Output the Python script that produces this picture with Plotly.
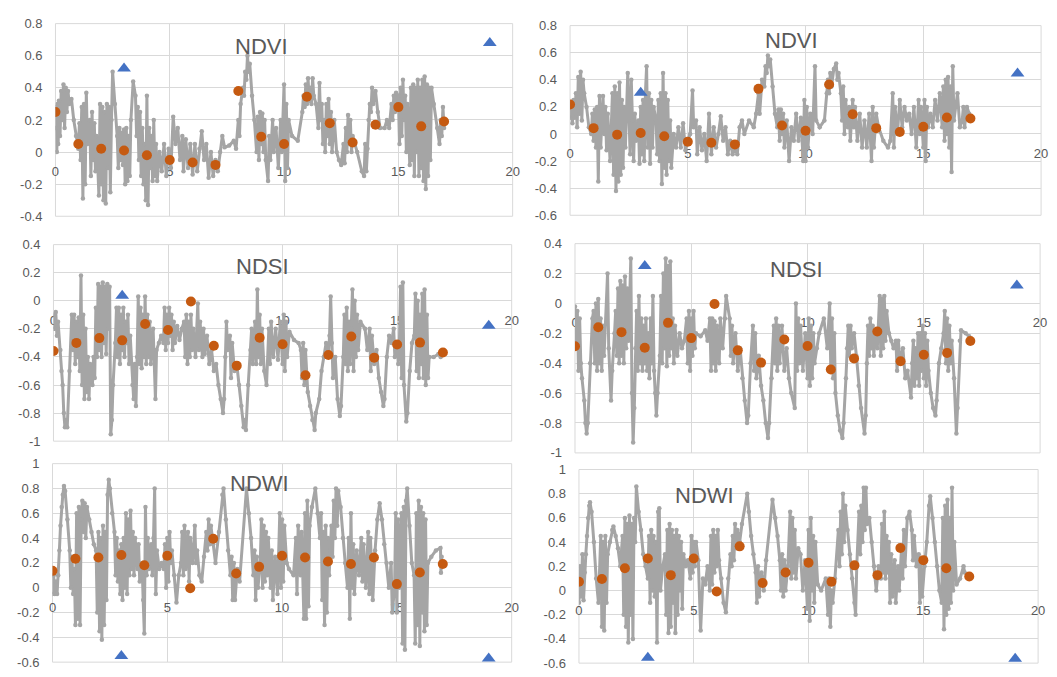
import plotly.graph_objects as go

# ---------------- data ----------------
dot_x = [0, 1, 2, 3, 4, 5, 6, 7, 8, 9, 10, 11, 12, 13, 14, 15, 16, 17]
tri_x = [3, 19]

ndvi_a_dots = [0.25, 0.05, 0.02, 0.01, -0.02, -0.05, -0.065, -0.08, 0.38, 0.095, 0.05, 0.345, 0.18, 0.06, 0.17, 0.28, 0.16, 0.19]
ndvi_b_dots = [0.217, 0.043, -0.005, 0.007, -0.017, -0.058, -0.065, -0.077, 0.333, 0.063, 0.024, 0.365, 0.145, 0.043, 0.014, 0.053, 0.121, 0.114]
ndsi_a_dots = [-0.358, -0.30, -0.266, -0.282, -0.166, -0.208, -0.005, -0.321, -0.462, -0.264, -0.31, -0.53, -0.386, -0.254, -0.405, -0.312, -0.298, -0.368]
ndsi_b_dots = [-0.287, -0.159, -0.192, -0.296, -0.130, -0.232, -0.004, -0.314, -0.396, -0.241, -0.285, -0.442, -0.369, -0.188, -0.387, -0.343, -0.331, -0.252]
ndwi_a_dots = [0.136, 0.233, 0.243, 0.264, 0.181, 0.257, -0.005, 0.395, 0.115, 0.168, 0.257, 0.243, 0.212, 0.191, 0.243, 0.029, 0.123, 0.191]
ndwi_b_dots = [0.073, 0.095, 0.184, 0.265, 0.127, 0.265, -0.008, 0.365, 0.062, 0.149, 0.23, 0.073, 0.208, 0.127, 0.351, 0.251, 0.184, 0.116]

ndvi_a_tri = [0.52, 0.68]
ndvi_b_tri = [0.305, 0.447]
ndsi_a_tri = [0.035, -0.178]
ndsi_b_tri = [0.25, 0.12]
ndwi_a_tri = [-0.55, -0.57]
ndwi_b_tri = [-0.555, -0.563]

ndvi_a_line = [(0.00,0.15),(0.03,0.28),(0.06,0.00),(0.09,0.30),(0.12,0.05),(0.15,0.32),(0.20,0.10),(0.25,0.38),(0.30,0.20),(0.35,0.42),(0.40,0.15),(0.45,0.40),(0.50,0.25),(0.55,0.38),(0.60,0.30),(0.70,0.33),(0.80,0.20),(0.90,0.10),(1.00,0.02),(1.05,0.18),(1.10,-0.05),(1.15,0.28),(1.20,-0.29),(1.25,0.30),(1.30,-0.20),(1.35,0.37),(1.40,0.05),(1.50,0.20),(1.55,-0.15),(1.60,0.25),(1.65,-0.05),(1.70,0.18),(1.75,-0.12),(1.80,0.10),(1.90,-0.27),(1.95,0.30),(2.00,-0.20),(2.05,0.28),(2.10,-0.30),(2.15,0.25),(2.20,-0.32),(2.25,0.30),(2.30,-0.10),(2.35,0.28),(2.40,-0.25),(2.45,0.20),(2.50,0.50),(2.60,0.30),(2.70,0.10),(2.75,-0.10),(2.80,0.15),(2.85,-0.05),(2.90,0.12),(2.95,-0.08),(3.00,0.14),(3.05,-0.20),(3.10,0.15),(3.15,-0.18),(3.20,0.10),(3.25,-0.15),(3.30,0.20),(3.40,0.44),(3.50,0.35),(3.55,0.10),(3.60,0.28),(3.65,-0.05),(3.70,0.25),(3.75,-0.15),(3.80,0.15),(3.85,-0.20),(3.90,0.05),(3.95,-0.30),(4.00,0.35),(4.05,-0.33),(4.10,0.15),(4.15,-0.10),(4.20,0.10),(4.25,-0.18),(4.30,0.20),(4.35,-0.15),(4.40,0.05),(4.45,-0.18),(4.55,0.00),(4.65,-0.12),(4.75,0.05),(4.85,-0.15),(4.95,0.02),(5.05,-0.10),(5.15,0.22),(5.25,0.05),(5.35,0.15),(5.45,-0.05),(5.55,0.10),(5.60,-0.12),(5.70,0.08),(5.80,-0.10),(5.90,0.05),(6.00,-0.14),(6.10,0.05),(6.20,-0.12),(6.30,0.02),(6.40,0.13),(6.50,-0.05),(6.60,0.05),(6.70,-0.16),(6.80,0.00),(6.90,-0.15),(7.00,-0.05),(7.10,-0.12),(7.20,0.00),(7.30,0.10),(7.40,0.03),(7.60,0.04),(7.80,0.07),(7.90,0.02),(8.00,0.20),(8.05,0.10),(8.10,0.30),(8.20,0.40),(8.25,0.35),(8.30,0.50),(8.35,0.45),(8.40,0.60),(8.45,0.50),(8.50,0.55),(8.60,0.35),(8.70,0.20),(8.80,0.00),(8.85,0.22),(8.90,-0.05),(8.95,0.25),(9.00,0.05),(9.05,0.24),(9.10,0.00),(9.15,0.20),(9.20,-0.05),(9.30,-0.18),(9.35,0.10),(9.40,-0.05),(9.50,0.20),(9.55,0.00),(9.65,0.15),(9.75,-0.10),(9.85,0.20),(9.90,0.00),(10.00,0.42),(10.05,-0.18),(10.10,0.30),(10.15,-0.10),(10.20,0.20),(10.35,0.10),(10.60,0.07),(10.80,0.25),(10.85,0.35),(10.90,0.28),(10.95,0.42),(11.00,0.30),(11.05,0.46),(11.10,0.32),(11.15,0.40),(11.20,0.30),(11.25,0.46),(11.30,0.35),(11.40,0.30),(11.50,0.15),(11.55,0.43),(11.60,0.20),(11.65,0.30),(11.70,0.05),(11.75,0.20),(11.80,0.00),(11.85,0.30),(11.90,0.10),(11.95,0.33),(12.00,0.05),(12.05,0.25),(12.10,0.00),(12.20,0.20),(12.30,0.00),(12.40,-0.05),(12.50,-0.08),(12.60,0.05),(12.65,-0.07),(12.70,0.15),(12.75,0.00),(12.80,0.23),(12.85,0.05),(12.90,0.20),(12.95,0.00),(13.00,0.10),(13.20,0.00),(13.40,-0.12),(13.50,-0.15),(13.55,0.05),(13.60,-0.12),(13.65,0.02),(13.70,0.20),(13.75,0.30),(13.80,0.25),(13.85,0.40),(13.90,0.30),(14.00,0.38),(14.10,0.25),(14.20,0.15),(14.40,0.15),(14.50,0.20),(14.60,0.15),(14.70,0.30),(14.75,0.20),(14.80,0.35),(14.85,0.25),(14.90,0.37),(15.00,0.35),(15.05,0.05),(15.10,0.40),(15.15,0.10),(15.20,0.45),(15.25,0.20),(15.30,0.35),(15.35,0.00),(15.40,0.30),(15.50,-0.08),(15.55,0.40),(15.60,-0.05),(15.65,0.42),(15.70,-0.15),(15.75,0.40),(15.80,0.00),(15.85,0.45),(15.90,-0.15),(15.95,0.40),(16.00,-0.10),(16.05,0.45),(16.10,-0.18),(16.15,0.47),(16.20,-0.23),(16.25,0.42),(16.30,-0.15),(16.35,0.40),(16.40,-0.05),(16.45,0.40),(16.55,0.30),(16.70,0.15),(16.80,0.05),(16.85,0.20),(16.90,0.10),(16.95,0.28),(17.00,0.15)]

ndvi_b_line = [(0.00,0.12),(0.05,0.22),(0.10,0.08),(0.15,0.25),(0.20,0.12),(0.25,0.30),(0.30,0.05),(0.35,0.42),(0.40,0.15),(0.45,0.46),(0.50,0.10),(0.55,0.40),(0.60,0.30),(0.70,0.20),(0.80,0.05),(0.90,0.00),(0.95,0.15),(1.00,-0.05),(1.05,0.18),(1.10,-0.10),(1.15,0.20),(1.20,-0.35),(1.25,0.28),(1.30,-0.10),(1.40,0.28),(1.45,0.00),(1.50,0.20),(1.55,-0.12),(1.60,0.15),(1.70,-0.20),(1.80,0.30),(1.85,-0.30),(1.90,0.35),(1.95,-0.42),(2.00,0.30),(2.05,-0.35),(2.10,0.38),(2.15,-0.30),(2.20,0.25),(2.25,-0.25),(2.30,0.20),(2.35,-0.10),(2.45,0.45),(2.50,0.20),(2.55,-0.15),(2.60,0.40),(2.65,0.10),(2.70,-0.20),(2.75,0.15),(2.80,-0.05),(2.90,0.10),(2.95,-0.22),(3.00,0.20),(3.05,-0.15),(3.10,0.25),(3.15,-0.20),(3.20,0.30),(3.25,0.50),(3.30,-0.10),(3.35,0.30),(3.40,-0.22),(3.45,0.25),(3.50,-0.10),(3.55,0.20),(3.65,0.10),(3.70,-0.15),(3.75,0.25),(3.80,-0.20),(3.85,0.30),(3.90,-0.37),(3.95,0.45),(4.00,-0.25),(4.05,0.30),(4.10,-0.30),(4.15,0.25),(4.20,-0.20),(4.25,0.10),(4.30,-0.25),(4.40,0.00),(4.50,-0.10),(4.60,0.05),(4.70,-0.10),(4.80,0.08),(4.90,-0.12),(5.00,-0.05),(5.10,0.00),(5.20,0.32),(5.25,0.05),(5.35,0.10),(5.40,-0.15),(5.50,0.05),(5.60,-0.12),(5.70,0.00),(5.80,-0.20),(5.90,0.15),(6.00,-0.15),(6.10,0.05),(6.20,-0.10),(6.30,0.00),(6.40,0.13),(6.50,-0.05),(6.60,0.05),(6.70,-0.15),(6.80,-0.05),(6.90,-0.15),(7.00,-0.10),(7.10,-0.15),(7.20,0.05),(7.30,0.10),(7.40,0.00),(7.60,0.10),(7.80,0.05),(7.90,0.15),(8.00,0.30),(8.05,0.15),(8.15,0.40),(8.25,0.35),(8.30,0.50),(8.35,0.45),(8.40,0.58),(8.45,0.50),(8.50,0.55),(8.60,0.35),(8.70,0.15),(8.80,0.05),(8.85,0.18),(8.90,-0.05),(8.95,0.18),(9.00,0.00),(9.05,0.15),(9.10,-0.10),(9.20,0.10),(9.30,-0.20),(9.40,0.05),(9.50,-0.05),(9.60,0.15),(9.70,-0.05),(9.80,0.12),(9.90,-0.20),(9.95,0.25),(10.00,-0.20),(10.05,0.20),(10.10,-0.10),(10.20,0.15),(10.30,0.00),(10.40,0.50),(10.45,0.10),(10.60,0.05),(10.80,0.10),(10.90,0.30),(10.95,0.40),(11.00,0.30),(11.05,0.45),(11.10,0.35),(11.20,0.48),(11.30,0.52),(11.35,0.40),(11.40,0.45),(11.50,0.30),(11.55,0.10),(11.60,0.35),(11.65,0.00),(11.70,0.25),(11.80,0.05),(11.85,0.20),(11.90,-0.05),(12.00,0.25),(12.05,0.05),(12.10,0.20),(12.20,-0.05),(12.30,0.15),(12.40,-0.10),(12.50,0.10),(12.60,-0.10),(12.70,0.15),(12.80,-0.20),(12.85,0.20),(12.90,-0.10),(13.00,0.15),(13.10,0.05),(13.30,-0.05),(13.50,-0.10),(13.60,-0.05),(13.70,0.30),(13.75,-0.10),(13.80,0.20),(13.90,0.00),(14.00,0.25),(14.10,0.05),(14.20,0.20),(14.30,0.10),(14.40,0.15),(14.50,0.00),(14.60,0.20),(14.70,-0.10),(14.80,0.25),(14.85,0.00),(14.90,0.20),(15.00,-0.10),(15.05,0.25),(15.10,-0.20),(15.15,0.20),(15.20,0.05),(15.30,0.15),(15.40,0.05),(15.50,0.25),(15.60,0.10),(15.70,0.30),(15.80,0.05),(15.85,0.35),(15.90,-0.05),(15.95,0.40),(16.00,0.00),(16.05,0.42),(16.10,-0.10),(16.15,0.35),(16.20,-0.28),(16.25,0.50),(16.30,0.10),(16.45,0.30),(16.55,0.05),(16.65,0.10),(16.70,0.20),(16.75,0.05),(16.85,0.20),(16.95,0.15)]

ndsi_a_line = [(0.00,-0.10),(0.05,-0.20),(0.10,-0.08),(0.15,-0.25),(0.20,-0.15),(0.30,-0.35),(0.35,-0.50),(0.40,-0.60),(0.45,-0.80),(0.50,-0.90),(0.55,-0.85),(0.60,-0.90),(0.70,-0.50),(0.80,-0.10),(0.85,-0.35),(0.90,-0.10),(0.95,-0.45),(1.00,-0.15),(1.05,-0.40),(1.10,-0.12),(1.15,-0.50),(1.20,0.18),(1.25,-0.60),(1.30,-0.10),(1.35,-0.70),(1.40,-0.20),(1.45,-0.65),(1.50,-0.40),(1.55,-0.70),(1.60,-0.45),(1.70,-0.60),(1.75,-0.40),(1.80,-0.55),(1.85,-0.05),(1.90,-0.40),(1.95,0.12),(2.00,-0.35),(2.05,0.10),(2.10,-0.40),(2.15,0.13),(2.20,-0.30),(2.25,0.10),(2.30,-0.38),(2.35,0.12),(2.40,-0.20),(2.45,0.10),(2.50,-0.95),(2.55,-0.85),(2.60,-0.60),(2.70,-0.30),(2.75,-0.05),(2.80,-0.40),(2.85,-0.05),(2.90,-0.45),(2.95,-0.10),(3.00,-0.35),(3.05,-0.05),(3.10,-0.40),(3.15,-0.15),(3.20,-0.30),(3.25,-0.10),(3.30,-0.45),(3.35,-0.25),(3.45,-0.60),(3.50,-0.70),(3.55,-0.45),(3.60,-0.75),(3.65,-0.40),(3.70,0.03),(3.75,-0.45),(3.80,-0.05),(3.85,-0.48),(3.90,-0.10),(3.95,-0.40),(4.00,0.03),(4.05,-0.45),(4.10,-0.10),(4.15,-0.40),(4.20,-0.15),(4.25,-0.45),(4.35,-0.20),(4.45,-0.70),(4.50,-0.35),(4.60,-0.30),(4.70,-0.25),(4.80,-0.30),(4.85,-0.05),(4.90,-0.35),(4.95,-0.10),(5.00,-0.30),(5.05,-0.05),(5.10,-0.25),(5.15,-0.10),(5.20,-0.35),(5.25,-0.15),(5.30,-0.30),(5.40,-0.18),(5.50,-0.28),(5.60,-0.20),(5.70,-0.15),(5.75,-0.40),(5.80,-0.10),(5.85,-0.45),(5.90,-0.15),(5.95,-0.40),(6.00,-0.10),(6.05,-0.35),(6.10,-0.20),(6.20,-0.40),(6.30,-0.02),(6.35,-0.35),(6.40,-0.15),(6.50,-0.40),(6.55,-0.20),(6.60,-0.38),(6.70,-0.25),(6.80,-0.45),(6.90,-0.35),(7.00,-0.50),(7.10,-0.45),(7.20,-0.60),(7.30,-0.70),(7.40,-0.80),(7.45,-0.70),(7.50,-0.40),(7.55,-0.15),(7.60,-0.35),(7.70,-0.25),(7.75,-0.55),(7.80,-0.30),(7.90,-0.50),(8.00,-0.45),(8.10,-0.60),(8.20,-0.75),(8.30,-0.90),(8.35,-0.85),(8.40,-0.92),(8.50,-0.60),(8.60,-0.35),(8.65,-0.20),(8.70,-0.45),(8.80,-0.15),(8.85,-0.45),(8.90,0.08),(8.95,-0.40),(9.00,-0.10),(9.05,-0.45),(9.10,-0.20),(9.20,-0.50),(9.30,-0.60),(9.40,-0.20),(9.45,-0.45),(9.50,-0.15),(9.60,-0.40),(9.70,-0.20),(9.80,-0.42),(9.90,-0.15),(10.00,-0.45),(10.05,-0.10),(10.10,-0.50),(10.15,-0.15),(10.20,-0.40),(10.30,-0.22),(10.50,-0.28),(10.70,-0.30),(10.80,-0.35),(10.85,-0.55),(10.90,-0.30),(10.95,-0.60),(11.00,-0.35),(11.10,-0.65),(11.20,-0.75),(11.30,-0.85),(11.40,-0.92),(11.45,-0.80),(11.60,-0.70),(11.70,-0.50),(11.80,-0.40),(11.90,-0.30),(12.00,-0.40),(12.05,-0.25),(12.10,0.03),(12.15,-0.30),(12.20,-0.55),(12.30,-0.40),(12.40,-0.70),(12.50,-0.82),(12.55,-0.75),(12.65,-0.40),(12.70,-0.10),(12.75,-0.45),(12.80,-0.05),(12.85,-0.50),(12.90,-0.15),(12.95,-0.45),(13.00,-0.20),(13.05,0.08),(13.10,-0.50),(13.15,0.00),(13.20,-0.40),(13.25,-0.10),(13.30,-0.35),(13.40,-0.15),(13.60,-0.20),(13.70,-0.35),(13.80,-0.20),(13.85,-0.50),(13.90,-0.25),(14.00,-0.45),(14.10,-0.35),(14.20,-0.55),(14.30,-0.65),(14.40,-0.75),(14.45,-0.70),(14.55,-0.40),(14.65,-0.25),(14.75,-0.30),(14.85,-0.20),(14.90,-0.40),(15.00,-0.30),(15.05,-0.45),(15.10,-0.30),(15.15,0.10),(15.20,-0.55),(15.25,0.13),(15.30,-0.60),(15.40,-0.86),(15.45,-0.80),(15.55,-0.50),(15.65,-0.30),(15.75,-0.25),(15.80,0.05),(15.85,-0.50),(15.90,0.00),(15.95,-0.55),(16.00,-0.10),(16.05,-0.45),(16.10,0.05),(16.15,-0.55),(16.20,0.08),(16.25,-0.60),(16.30,-0.10),(16.35,-0.55),(16.40,-0.40),(16.60,-0.40),(16.80,-0.38),(16.90,-0.40)]

ndsi_b_line = [(0.00,-0.02),(0.05,-0.30),(0.10,-0.05),(0.15,-0.45),(0.20,-0.10),(0.25,-0.40),(0.30,-0.50),(0.40,-0.65),(0.45,-0.80),(0.50,-0.87),(0.55,-0.80),(0.65,-0.40),(0.75,-0.10),(0.80,-0.05),(0.85,-0.40),(0.90,0.00),(0.95,-0.45),(1.00,0.03),(1.05,-0.40),(1.10,-0.10),(1.15,-0.45),(1.20,-0.15),(1.25,-0.35),(1.40,0.20),(1.45,-0.30),(1.55,-0.65),(1.60,-0.45),(1.70,-0.20),(1.75,-0.05),(1.80,-0.35),(1.85,0.10),(1.90,-0.40),(1.95,0.15),(2.00,-0.35),(2.05,0.12),(2.10,-0.40),(2.15,0.18),(2.20,-0.30),(2.25,0.10),(2.30,-0.25),(2.40,0.30),(2.45,-0.60),(2.50,-0.93),(2.55,-0.70),(2.60,-0.30),(2.65,-0.05),(2.70,-0.45),(2.75,0.05),(2.80,-0.40),(2.85,-0.10),(2.90,-0.45),(2.95,-0.15),(3.00,-0.40),(3.05,-0.10),(3.10,-0.45),(3.15,-0.20),(3.20,-0.50),(3.25,-0.10),(3.30,-0.40),(3.35,0.05),(3.40,-0.45),(3.45,-0.60),(3.50,-0.75),(3.55,-0.60),(3.65,-0.35),(3.70,0.05),(3.75,-0.40),(3.80,0.20),(3.85,-0.30),(3.90,0.30),(3.95,-0.42),(4.00,0.25),(4.05,-0.35),(4.10,0.28),(4.15,-0.30),(4.20,-0.10),(4.25,-0.40),(4.30,-0.15),(4.40,-0.35),(4.50,-0.20),(4.60,-0.30),(4.70,-0.25),(4.80,-0.10),(4.85,-0.40),(4.90,-0.05),(4.95,-0.45),(5.00,-0.10),(5.05,-0.35),(5.10,-0.05),(5.15,-0.30),(5.20,-0.20),(5.40,-0.22),(5.60,-0.18),(5.70,-0.25),(5.80,-0.10),(5.85,-0.45),(5.90,-0.10),(5.95,-0.40),(6.00,-0.12),(6.05,-0.45),(6.10,-0.15),(6.20,-0.40),(6.25,-0.10),(6.35,-0.30),(6.45,-0.10),(6.50,0.05),(6.65,-0.10),(6.70,-0.35),(6.75,-0.15),(6.80,-0.40),(6.90,-0.20),(7.00,-0.45),(7.10,-0.30),(7.20,-0.50),(7.30,-0.65),(7.40,-0.80),(7.45,-0.75),(7.55,-0.40),(7.65,-0.15),(7.70,-0.45),(7.75,-0.20),(7.80,-0.50),(7.90,-0.35),(8.00,-0.55),(8.10,-0.65),(8.20,-0.80),(8.30,-0.90),(8.35,-0.80),(8.45,-0.50),(8.55,-0.15),(8.60,-0.40),(8.65,-0.10),(8.70,-0.45),(8.75,-0.15),(8.80,-0.40),(8.90,-0.15),(9.00,-0.45),(9.10,-0.30),(9.20,-0.50),(9.30,-0.60),(9.45,-0.70),(9.50,0.00),(9.55,-0.45),(9.60,-0.10),(9.65,-0.40),(9.70,-0.15),(9.80,-0.45),(9.90,-0.20),(10.00,-0.50),(10.05,-0.10),(10.10,-0.55),(10.15,-0.15),(10.20,-0.50),(10.25,-0.20),(10.30,-0.40),(10.40,-0.30),(10.50,-0.20),(10.70,-0.10),(10.85,-0.30),(10.95,0.00),(11.00,-0.45),(11.05,-0.10),(11.10,-0.50),(11.15,-0.20),(11.20,-0.60),(11.30,-0.75),(11.40,-0.85),(11.50,-0.90),(11.55,-0.80),(11.65,-0.50),(11.70,-0.30),(11.75,-0.15),(11.80,-0.35),(11.85,-0.15),(11.90,-0.30),(12.00,-0.20),(12.10,-0.35),(12.20,-0.55),(12.30,-0.70),(12.45,-0.87),(12.50,-0.75),(12.55,-0.40),(12.60,-0.15),(12.65,-0.35),(12.70,-0.10),(12.75,-0.30),(12.80,-0.15),(12.85,-0.35),(12.90,-0.20),(13.00,-0.30),(13.10,0.05),(13.15,-0.35),(13.20,0.03),(13.25,-0.30),(13.30,0.05),(13.35,-0.25),(13.40,-0.05),(13.50,-0.20),(13.60,-0.25),(13.70,-0.30),(13.80,-0.25),(13.85,-0.45),(13.90,-0.25),(14.00,-0.40),(14.10,-0.30),(14.20,-0.50),(14.30,-0.45),(14.45,-0.63),(14.50,-0.40),(14.55,-0.25),(14.60,-0.55),(14.65,-0.30),(14.70,-0.50),(14.75,-0.20),(14.80,-0.55),(14.85,-0.20),(14.90,-0.45),(14.95,-0.15),(15.00,-0.50),(15.05,-0.20),(15.10,-0.55),(15.15,-0.25),(15.20,-0.45),(15.30,-0.60),(15.40,-0.70),(15.50,-0.75),(15.55,-0.65),(15.65,-0.40),(15.75,-0.30),(15.85,-0.20),(15.90,-0.05),(15.95,-0.40),(16.00,-0.10),(16.05,-0.45),(16.10,-0.15),(16.15,-0.40),(16.20,-0.25),(16.30,-0.50),(16.40,-0.87),(16.45,-0.70),(16.55,-0.25),(16.60,-0.18),(16.80,-0.20),(16.95,-0.22)]

ndwi_a_line = [(0.00,-0.05),(0.05,0.10),(0.10,-0.05),(0.15,0.05),(0.20,-0.05),(0.25,0.10),(0.30,0.30),(0.35,0.50),(0.40,0.65),(0.45,0.75),(0.50,0.82),(0.55,0.78),(0.65,0.55),(0.75,0.30),(0.80,0.00),(0.85,0.25),(0.90,-0.05),(0.95,0.15),(1.00,-0.30),(1.05,0.60),(1.10,-0.25),(1.15,0.65),(1.20,-0.30),(1.25,0.55),(1.30,0.70),(1.35,0.45),(1.40,0.68),(1.45,0.40),(1.50,0.65),(1.60,0.55),(1.70,0.45),(1.80,0.35),(1.90,0.30),(1.95,-0.20),(2.00,0.45),(2.05,-0.35),(2.10,0.40),(2.15,-0.42),(2.20,0.50),(2.25,-0.30),(2.30,0.45),(2.35,-0.10),(2.40,0.75),(2.45,0.87),(2.50,0.80),(2.60,0.60),(2.70,0.45),(2.75,0.10),(2.80,0.40),(2.85,0.05),(2.90,0.30),(2.95,-0.05),(3.00,0.35),(3.05,-0.10),(3.10,0.40),(3.15,0.00),(3.20,0.60),(3.25,-0.05),(3.30,0.55),(3.35,0.10),(3.40,0.62),(3.45,0.15),(3.50,0.45),(3.55,0.10),(3.60,0.40),(3.70,0.15),(3.75,0.35),(3.80,0.05),(3.90,0.20),(3.95,-0.10),(4.00,-0.37),(4.05,0.65),(4.10,0.10),(4.15,0.40),(4.20,0.15),(4.30,0.35),(4.35,0.10),(4.40,0.40),(4.45,0.80),(4.50,-0.05),(4.55,0.30),(4.65,0.15),(4.75,0.20),(4.85,0.15),(4.90,0.35),(4.95,0.00),(5.00,0.40),(5.05,0.05),(5.10,0.45),(5.15,0.20),(5.20,0.30),(5.30,0.10),(5.40,-0.12),(5.50,0.10),(5.60,0.20),(5.65,0.45),(5.70,0.10),(5.75,0.50),(5.80,0.15),(5.90,0.45),(5.95,0.05),(6.00,0.40),(6.10,0.20),(6.20,0.50),(6.25,0.20),(6.30,0.30),(6.40,0.10),(6.50,0.05),(6.60,0.25),(6.70,0.45),(6.75,0.30),(6.80,0.55),(6.85,0.35),(6.90,0.50),(7.00,0.35),(7.10,0.20),(7.25,0.45),(7.40,0.75),(7.45,0.80),(7.55,0.55),(7.65,0.30),(7.75,0.10),(7.80,0.25),(7.85,-0.10),(7.90,0.20),(7.95,-0.10),(8.05,0.15),(8.15,0.05),(8.45,0.80),(8.55,0.60),(8.65,0.40),(8.75,0.10),(8.80,0.30),(8.85,-0.10),(8.90,0.25),(8.95,0.00),(9.05,0.20),(9.10,0.55),(9.15,0.00),(9.20,0.50),(9.25,0.05),(9.30,0.45),(9.35,0.10),(9.40,0.40),(9.50,0.00),(9.55,0.30),(9.60,-0.10),(9.70,0.25),(9.80,-0.05),(9.90,0.60),(9.95,0.00),(10.00,0.55),(10.05,0.05),(10.10,0.50),(10.20,0.20),(10.30,0.15),(10.50,0.10),(10.60,0.40),(10.65,-0.05),(10.70,0.50),(10.80,0.10),(10.85,0.45),(10.95,-0.25),(11.00,0.60),(11.05,-0.25),(11.10,0.70),(11.15,-0.15),(11.20,0.50),(11.30,0.65),(11.45,0.80),(11.55,0.60),(11.65,0.40),(11.70,0.60),(11.75,-0.10),(11.80,0.45),(11.85,-0.30),(11.90,0.50),(11.95,-0.20),(12.00,0.40),(12.05,0.10),(12.10,0.30),(12.15,0.50),(12.20,0.25),(12.25,0.70),(12.30,0.40),(12.35,0.80),(12.40,0.50),(12.45,0.78),(12.55,0.65),(12.65,0.40),(12.75,0.20),(12.85,0.00),(12.90,0.40),(12.95,-0.25),(13.00,0.60),(13.05,0.00),(13.10,0.35),(13.15,-0.05),(13.25,0.30),(13.35,0.10),(13.45,0.40),(13.50,0.05),(13.55,0.35),(13.65,0.00),(13.75,0.45),(13.80,-0.05),(13.85,0.40),(13.95,-0.10),(14.05,0.30),(14.15,0.55),(14.25,0.68),(14.35,0.55),(14.45,0.35),(14.55,0.20),(14.65,0.00),(14.75,0.20),(14.80,-0.20),(14.90,0.00),(14.95,0.60),(15.00,-0.20),(15.05,0.55),(15.10,0.00),(15.20,0.60),(15.25,-0.45),(15.30,0.65),(15.35,-0.50),(15.40,0.70),(15.45,0.80),(15.55,0.50),(15.65,0.20),(15.75,0.10),(15.80,-0.45),(15.85,0.60),(15.90,-0.30),(15.95,0.70),(16.00,-0.47),(16.05,0.65),(16.10,-0.20),(16.15,0.60),(16.20,-0.35),(16.25,0.55),(16.30,-0.30),(16.35,0.20),(16.50,0.25),(16.70,0.30),(16.90,0.32),(16.92,0.12),(16.95,0.25)]

ndwi_b_line = [(0.00,-0.10),(0.05,0.20),(0.10,-0.05),(0.15,0.30),(0.20,-0.08),(0.25,0.15),(0.30,0.30),(0.35,0.45),(0.40,0.60),(0.45,0.70),(0.48,0.73),(0.55,0.65),(0.65,0.40),(0.75,0.10),(0.85,-0.10),(0.95,0.45),(1.00,-0.30),(1.05,0.40),(1.10,-0.33),(1.15,0.45),(1.20,-0.10),(1.25,0.30),(1.35,0.40),(1.45,0.50),(1.50,0.53),(1.60,0.45),(1.70,0.35),(1.80,0.20),(1.90,0.45),(1.95,-0.20),(2.00,0.60),(2.05,-0.30),(2.10,0.55),(2.15,-0.43),(2.20,0.62),(2.25,-0.20),(2.30,0.55),(2.35,-0.40),(2.40,0.60),(2.45,0.40),(2.50,0.86),(2.60,0.65),(2.70,0.50),(2.80,0.30),(2.90,0.20),(3.00,0.10),(3.05,0.45),(3.10,-0.10),(3.15,0.50),(3.20,0.00),(3.25,0.45),(3.30,-0.05),(3.35,0.40),(3.40,-0.43),(3.45,0.65),(3.50,0.68),(3.55,0.00),(3.65,0.20),(3.75,0.30),(3.80,-0.20),(3.85,0.50),(3.90,-0.35),(3.95,0.55),(4.00,-0.30),(4.05,0.50),(4.10,-0.10),(4.15,0.45),(4.20,-0.35),(4.25,0.50),(4.30,-0.20),(4.35,0.45),(4.40,0.00),(4.45,0.40),(4.50,-0.15),(4.55,0.30),(4.65,0.20),(4.75,0.25),(4.85,0.10),(4.90,0.45),(4.95,0.15),(5.00,0.40),(5.05,0.20),(5.10,0.40),(5.20,0.25),(5.30,-0.33),(5.40,0.10),(5.50,0.05),(5.60,0.20),(5.70,0.00),(5.75,0.45),(5.80,0.05),(5.85,0.50),(5.90,0.15),(5.95,0.45),(6.00,0.20),(6.05,0.50),(6.10,0.25),(6.20,0.10),(6.30,-0.10),(6.40,-0.18),(6.50,0.10),(6.60,0.30),(6.65,0.20),(6.70,0.45),(6.75,0.25),(6.80,0.55),(6.85,0.35),(6.90,0.50),(7.00,0.40),(7.10,0.55),(7.33,0.80),(7.40,0.65),(7.50,0.45),(7.60,0.30),(7.70,0.15),(7.75,-0.10),(7.80,0.20),(7.85,-0.05),(7.95,0.15),(8.05,0.00),(8.15,0.25),(8.43,0.75),(8.55,0.60),(8.65,0.45),(8.75,0.25),(8.80,0.00),(8.85,0.30),(8.90,-0.05),(8.95,0.25),(9.00,0.00),(9.10,0.20),(9.20,0.65),(9.25,0.10),(9.30,0.60),(9.35,0.15),(9.40,0.50),(9.45,0.10),(9.55,0.35),(9.65,0.30),(9.75,0.00),(9.85,0.25),(9.95,-0.15),(10.00,0.50),(10.05,-0.25),(10.10,0.60),(10.15,0.00),(10.20,0.45),(10.25,-0.10),(10.30,0.40),(10.40,0.05),(10.55,0.00),(10.75,0.10),(10.85,-0.20),(10.90,0.10),(10.95,-0.30),(11.00,0.00),(11.05,-0.10),(11.15,0.10),(11.30,0.50),(11.35,0.20),(11.40,0.65),(11.45,0.30),(11.50,0.80),(11.55,0.40),(11.60,0.70),(11.70,0.50),(11.80,0.30),(11.90,0.10),(12.00,-0.10),(12.05,-0.20),(12.10,0.20),(12.20,0.65),(12.25,0.30),(12.30,0.70),(12.35,0.40),(12.40,0.85),(12.45,0.50),(12.50,0.85),(12.55,0.55),(12.65,0.60),(12.75,0.40),(12.85,0.20),(12.95,0.00),(13.05,0.20),(13.15,0.10),(13.20,0.55),(13.25,0.15),(13.30,0.65),(13.35,0.10),(13.40,0.45),(13.45,0.15),(13.50,0.40),(13.55,-0.10),(13.60,0.30),(13.65,-0.05),(13.75,0.25),(13.80,-0.10),(13.90,0.20),(13.95,0.00),(14.05,0.35),(14.10,0.10),(14.15,0.50),(14.20,0.20),(14.30,0.60),(14.40,0.65),(14.50,0.50),(14.55,0.25),(14.60,0.45),(14.70,0.20),(14.80,0.30),(14.85,-0.10),(14.90,0.25),(14.95,-0.05),(15.05,0.20),(15.15,0.40),(15.25,0.70),(15.30,0.78),(15.40,0.60),(15.50,0.40),(15.60,0.20),(15.70,0.00),(15.80,-0.10),(15.85,0.60),(15.90,-0.32),(15.95,0.70),(16.00,-0.20),(16.05,0.75),(16.10,-0.15),(16.15,0.60),(16.20,-0.10),(16.25,0.85),(16.30,0.00),(16.35,0.40),(16.45,0.05),(16.60,0.10),(16.75,0.20),(16.80,0.15)]

panel_titles = ["NDVI", "NDVI", "NDSI", "NDSI", "NDWI", "NDWI"]
y_ranges = [(-0.4, 0.8), (-0.6, 0.8), (-1.0, 0.4), (-1.0, 0.4), (-0.6, 1.0), (-0.6, 1.0)]
y_tick_values = [
    [-0.4, -0.2, 0, 0.2, 0.4, 0.6, 0.8],
    [-0.6, -0.4, -0.2, 0, 0.2, 0.4, 0.6, 0.8],
    [-1, -0.8, -0.6, -0.4, -0.2, 0, 0.2, 0.4],
    [-1, -0.8, -0.6, -0.4, -0.2, 0, 0.2, 0.4],
    [-0.6, -0.4, -0.2, 0, 0.2, 0.4, 0.6, 0.8, 1],
    [-0.6, -0.4, -0.2, 0, 0.2, 0.4, 0.6, 0.8, 1],
]
y_tick_labels = [
    ["-0.4", "-0.2", "0", "0.2", "0.4", "0.6", "0.8"],
    ["-0.6", "-0.4", "-0.2", "0", "0.2", "0.4", "0.6", "0.8"],
    ["-1", "-0.8", "-0.6", "-0.4", "-0.2", "0", "0.2", "0.4"],
    ["-1", "-0.8", "-0.6", "-0.4", "-0.2", "0", "0.2", "0.4"],
    ["-0.6", "-0.4", "-0.2", "0", "0.2", "0.4", "0.6", "0.8", "1"],
    ["-0.6", "-0.4", "-0.2", "0", "0.2", "0.4", "0.6", "0.8", "1"],
]
x_tick_values = [0, 5, 10, 15, 20]
x_tick_labels = ["0", "5", "10", "15", "20"]

lines = [ndvi_a_line, ndvi_b_line, ndsi_a_line, ndsi_b_line, ndwi_a_line, ndwi_b_line]
dots = [ndvi_a_dots, ndvi_b_dots, ndsi_a_dots, ndsi_b_dots, ndwi_a_dots, ndwi_b_dots]
tris = [ndvi_a_tri, ndvi_b_tri, ndsi_a_tri, ndsi_b_tri, ndwi_a_tri, ndwi_b_tri]

# ---------------- layout geometry (pixels) ----------------
W, H = 1057, 677
# (left, right, top, bottom) of each plot area in pixels
boxes = [(52, 514, 17, 214), (572, 1048, 19, 213),
         (50, 513, 243, 444), (577, 1047, 242, 456),
         (49, 513, 467, 670), (581, 1045, 473, 671)]
title_pos = [(260, 40), (796, 34), (261, 265), (801, 268), (258, 487), (708, 500)]

GRAY = "#A5A5A5"
ORANGE = "#C55A11"
BLUE = "#4472C4"
TXT = "#595959"
GRID = "#D9D9D9"
FONT = "Liberation Sans"

fig = go.Figure()
layout = dict(width=W, height=H, margin=dict(l=0, r=0, t=0, b=0),
              paper_bgcolor="white", plot_bgcolor="white", showlegend=False,
              font=dict(family=FONT, color=TXT, size=13))
annotations = []
shapes = []

for i in range(6):
    n = i + 1
    xa = "x" if n == 1 else f"x{n}"
    ya = "y" if n == 1 else f"y{n}"
    lx = [p[0] for p in lines[i]]
    ly = [p[1] for p in lines[i]]
    fig.add_trace(go.Scatter(x=lx, y=ly, mode="lines+markers", xaxis=xa, yaxis=ya,
                             line=dict(color=GRAY, width=3),
                             marker=dict(color=GRAY, size=4.5), hoverinfo="skip"))
    fig.add_trace(go.Scatter(x=dot_x, y=dots[i], mode="markers", xaxis=xa, yaxis=ya,
                             marker=dict(color=ORANGE, size=10, line=dict(width=0))))
    fig.add_trace(go.Scatter(x=tri_x, y=tris[i], mode="markers", xaxis=xa, yaxis=ya,
                             cliponaxis=False,
                             marker=dict(color=BLUE, size=12, symbol="triangle-up", line=dict(width=0))))

    L, R, T, B = boxes[i]
    xd = [L / W, R / W]
    yd = [1 - B / H, 1 - T / H]
    rmin, rmax = y_ranges[i]
    zero = yd[0] + (0 - rmin) / (rmax - rmin) * (yd[1] - yd[0])
    xkey = "xaxis" if n == 1 else f"xaxis{n}"
    ykey = "yaxis" if n == 1 else f"yaxis{n}"
    layout[xkey] = dict(domain=xd, range=[0, 20], anchor="free", position=zero,
                        tickvals=x_tick_values, ticktext=x_tick_labels,
                        showgrid=True, gridcolor=GRID, gridwidth=1, zeroline=False,
                        showline=False, ticks="", ticklabelstandoff=10, layer="below traces",
                        tickfont=dict(size=13, color=TXT, family=FONT), fixedrange=True)
    layout[ykey] = dict(domain=yd, range=[rmin, rmax], anchor=xa,
                        tickvals=y_tick_values[i], ticktext=y_tick_labels[i],
                        showgrid=True, gridcolor=GRID, gridwidth=1, zeroline=False,
                        showline=False, ticks="", ticklabelstandoff=12,
                        tickfont=dict(size=13, color=TXT, family=FONT), fixedrange=True)
    shapes.append(dict(type="rect", xref=f"{xa} domain", yref=f"{ya} domain",
                       x0=0, x1=1, y0=0, y1=1, line=dict(color=GRID, width=1),
                       fillcolor="rgba(0,0,0,0)", layer="below"))
    tx, ty = title_pos[i]
    annotations.append(dict(text=panel_titles[i], x=tx / W, y=1 - ty / H, xref="paper", yref="paper",
                            xanchor="center", yanchor="middle", showarrow=False,
                            font=dict(size=22, color=TXT, family=FONT)))

layout["annotations"] = annotations
layout["shapes"] = shapes
fig.update_layout(**layout)
fig.write_html("out.html", config={"displayModeBar": False},
               post_script="document.body.style.margin='0';document.body.style.overflow='hidden';")
